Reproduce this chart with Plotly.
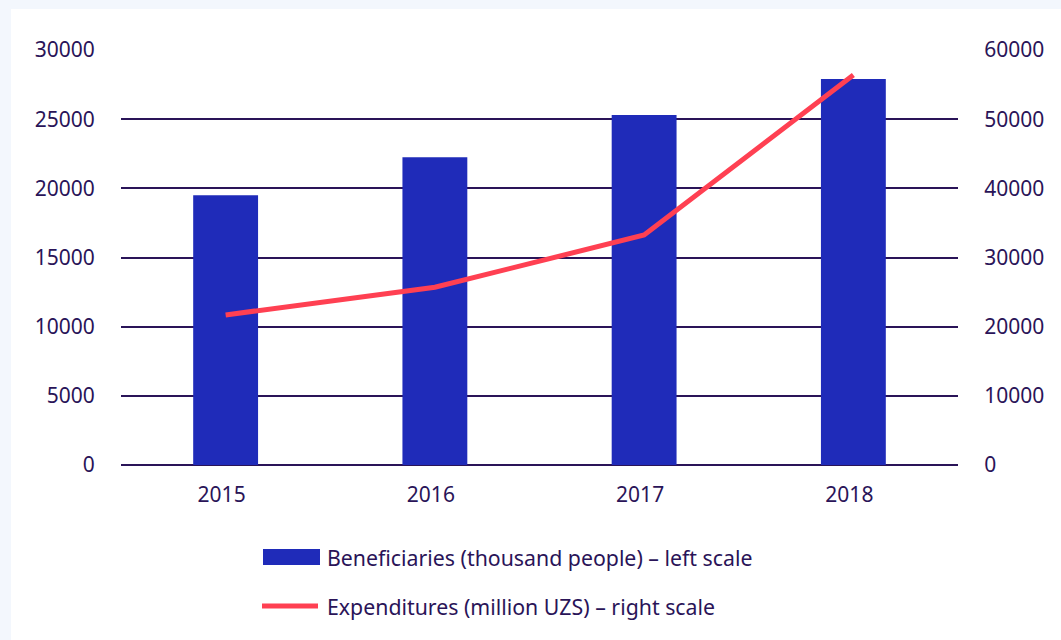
import plotly.graph_objects as go

years = ["2015", "2016", "2017", "2018"]
beneficiaries = [19500, 22250, 25300, 27900]   # thousand people, left scale
expenditures = [21700, 25700, 33250, 56400]     # million UZS, right scale
legend_labels = ["Beneficiaries (thousand people) – left scale",
                 "Expenditures (million UZS) – right scale"]

W, H = 1061, 640
L, R, T, B = 121, 103, 50, 175
PW, PH = W - L - R, H - T - B

def px(x):
    return (x - L) / PW

def py(y):
    return (H - B - y) / PH

TXT = "#2a1458"
BAR = "#1f2bb9"
LINE = "#ff4052"
BG = "#f3f7fd"
FONT = "Noto Sans"

fig = go.Figure()
fig.add_trace(go.Bar(x=years, y=beneficiaries, marker=dict(color=BAR, line=dict(width=0)),
                     width=0.31, name=legend_labels[0], yaxis="y"))
fig.add_trace(go.Scatter(x=years, y=expenditures, mode="lines",
                         line=dict(color=LINE, width=5), name=legend_labels[1], yaxis="y2"))

shapes = [
    dict(type="rect", xref="paper", yref="paper", x0=px(11), x1=px(1075), y0=py(9), y1=py(655),
         fillcolor="white", line=dict(width=0), layer="below"),
    dict(type="rect", xref="paper", yref="paper", x0=px(263), x1=px(320), y0=py(549), y1=py(565),
         fillcolor=BAR, line=dict(width=0)),
    dict(type="line", xref="paper", yref="paper", x0=px(262), x1=px(318), y0=py(606), y1=py(606),
         line=dict(color=LINE, width=5)),
]
annotations = [
    dict(text=legend_labels[0], xref="paper", yref="paper", x=px(325), y=py(557),
         xanchor="left", yanchor="middle", showarrow=False, font=dict(size=21.3, color=TXT, family=FONT)),
    dict(text=legend_labels[1], xref="paper", yref="paper", x=px(325), y=py(606),
         xanchor="left", yanchor="middle", showarrow=False, font=dict(size=21.3, color=TXT, family=FONT)),
]

fig.update_layout(
    width=W, height=H,
    margin=dict(l=L, r=R, t=T, b=B),
    paper_bgcolor="white",
    plot_bgcolor="rgba(0,0,0,0)",
    font=dict(family=FONT, size=21, color=TXT),
    showlegend=False,
    shapes=shapes,
    annotations=annotations,
    xaxis=dict(type="category", range=[-0.5, 3.5], showgrid=False, showline=False, zeroline=False,
               ticks="outside", ticklen=11, tickcolor="rgba(0,0,0,0)", ticklabelshift=-4),
    yaxis=dict(range=[0, 30000], tickvals=[0, 5000, 10000, 15000, 20000, 25000, 30000],
               ticktext=["0", "5000", "10000", "15000", "20000", "25000", "30000"],
               showgrid=True, gridcolor=TXT, gridwidth=2, zeroline=True, zerolinecolor=TXT,
               zerolinewidth=2, showline=False, ticks="outside", ticklen=21,
               tickcolor="rgba(0,0,0,0)"),
    yaxis2=dict(range=[0, 60000], overlaying="y", side="right",
                tickvals=[0, 10000, 20000, 30000, 40000, 50000, 60000],
                ticktext=["0", "10000", "20000", "30000", "40000", "50000", "60000"],
                showgrid=False, zeroline=False, showline=False, ticks="outside", ticklen=21,
                tickcolor="rgba(0,0,0,0)"),
    bargap=0.69,
)

# light band along top and left edges of the page (page background)
fig.add_shape(type="rect", xref="paper", yref="paper", x0=px(-5), x1=px(1075), y0=py(9), y1=py(-5),
              fillcolor=BG, line=dict(width=0), layer="below")
fig.add_shape(type="rect", xref="paper", yref="paper", x0=px(-5), x1=px(11), y0=py(655), y1=py(-5),
              fillcolor=BG, line=dict(width=0), layer="below")

fig.write_html("out.html", config={"displayModeBar": False},
               post_script="document.body.style.margin='0';document.body.style.overflow='hidden';"
                           "document.body.style.background='%s';" % BG)
